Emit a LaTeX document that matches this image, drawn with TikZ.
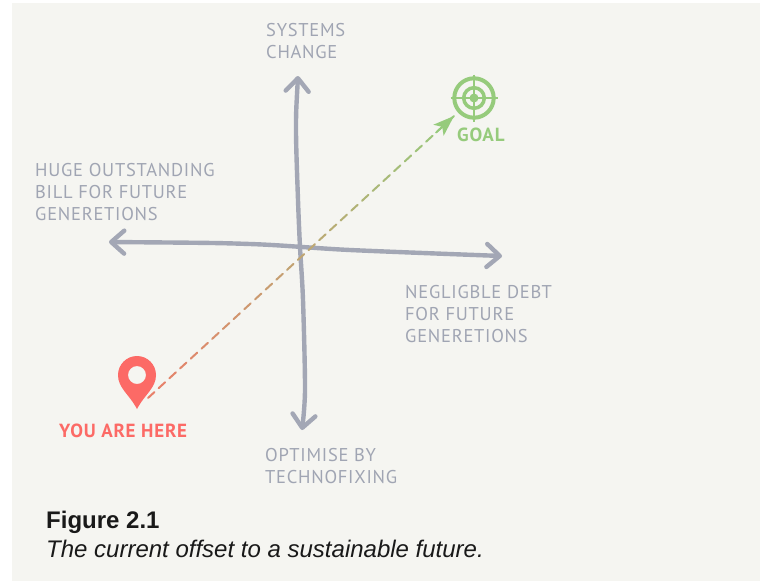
\documentclass[tikz,border=0pt]{standalone}
\usepackage{fontspec}
\setmainfont{Liberation Sans}
\newfontfamily\handfont[LetterSpace=4]{PT Sans}
\usetikzlibrary{arrows.meta,calc,positioning}
\definecolor{paper}{HTML}{F5F5F1}
\definecolor{axisgrey}{HTML}{A3A7B5}
\definecolor{labelgrey}{HTML}{A0A5B3}
\definecolor{pinred}{HTML}{FC6A66}
\definecolor{dashred}{HTML}{E8806A}
\definecolor{goalgreen}{HTML}{96CB7C}
\tikzset{
	axisline/.style={line width=4.4pt, axisgrey, line cap=round, line join=round, {Straight Barb[length=13pt,width=23pt,line width=4.4pt,round]}-{Straight Barb[length=13pt,width=23pt,line width=4.4pt,round]}},
	axislabel/.style={anchor=north west, align=left, text=labelgrey, font=\handfont\fontsize{18.5}{22.3}\selectfont, inner sep=0pt},
	marklabel/.style={anchor=north west, inner sep=0pt, font=\handfont\bfseries\fontsize{19}{20}\selectfont},
}
\begin{document}
\begin{tikzpicture}[x=1pt,y=-1pt]
		\useasboundingbox (0,0) rectangle (760,582);
		\fill[paper] (12,3) rectangle (760,581);
		
		\node[axislabel] (systems) at (266,23) {SYSTEMS\\CHANGE};
		
		\node[axislabel] (bill) at (35,163) {HUGE OUTSTANDING\\BILL FOR FUTURE\\GENERETIONS};
		
		\node[axislabel] (debt) at (405,285) {NEGLIGBLE DEBT\\FOR FUTURE\\GENERETIONS};
		
		\node[axislabel] (techno) at (265,448) {OPTIMISE BY\\TECHNOFIXING};
		
		\coordinate (pintip) at (137,409);
		\coordinate (dashstart) at (148,398);
		\coordinate (goal) at (474,98);
		\coordinate (goalarrow) at (454,116);
		
		\draw[axisline] plot[smooth] coordinates {(298,76) (296,130) (298,200) (300,247) (303,300) (305,390) (302,430)};
		\draw[axisline] plot[smooth] coordinates {(109,242) (250,244) (350,250) (502,256)};
		
		% dashes fade from the pin colour to the goal colour
		\foreach \i in {0,...,28}{
			\pgfmathsetmacro{\ta}{\i/28.6}
			\pgfmathsetmacro{\tb}{(\i+0.6)/28.6}
			\pgfmathtruncatemacro{\mixval}{100-\i*100/28}
			\draw[line width=2pt, line cap=round, color=goalgreen!\mixval!dashred] ($(goalarrow)!\ta!(dashstart)$) -- ($(goalarrow)!\tb!(dashstart)$);
		}
		\draw[-{Stealth[length=21pt,width=15pt,inset=5pt]}, line width=1.6pt, goalgreen] ($(goalarrow)!0.06!(dashstart)$) -- (goalarrow);
		
		\fill[pinred, even odd rule] (pintip) .. controls (129,394) and (118,388) .. (118,375) arc[start angle=180, end angle=360, radius=19] .. controls (156,388) and (145,394) .. (pintip) (137,375) circle[radius=9];
		
		\draw[goalgreen, line width=4pt] (goal) circle[radius=19.7];
		\draw[goalgreen, line width=3.5pt] (goal) circle[radius=10.3];
		\fill[goalgreen] (goal) circle[radius=4.5];
		\draw[goalgreen, line width=2.8pt] ($(goal)+(-23.5,0)$) -- ($(goal)+(23.5,0)$);
		\draw[goalgreen, line width=2.8pt] ($(goal)+(0,-23.5)$) -- ($(goal)+(0,23.5)$);
		
		\node[marklabel, text=goalgreen] (goaltext) at (457,128) {GOAL};
		\node[marklabel, text=pinred] (heretext) at (59,424) {YOU ARE HERE};
		
		\node[anchor=north west, inner sep=0pt, align=left, text=black!90, font=\fontsize{24}{29}\selectfont] (caption) at (46,511) {\textbf{Figure 2.1}\\\textit{The current offset to a sustainable future.}};
		\end{tikzpicture}
\end{document}
